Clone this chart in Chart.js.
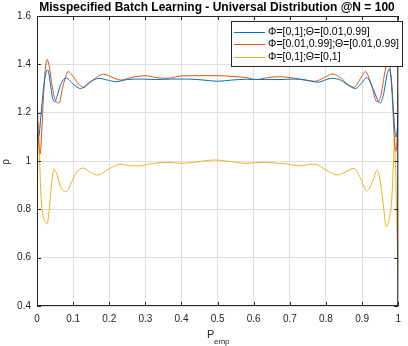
<!DOCTYPE html>
<html>
<head>
<meta charset="utf-8">
<script src="https://cdn.jsdelivr.net/npm/chart.js@4"></script>
<style>
  html, body { margin: 0; padding: 0; background: #fff; }
</style>
</head>
<body>
<canvas id="myChart" width="408" height="346"></canvas>
<script>
// P_emp positions and rho values, one pair of arrays per curve
const blueP = [0, 0.002, 0.006, 0.011, 0.018, 0.024, 0.03, 0.037, 0.043, 0.049, 0.056, 0.065, 0.081, 0.1, 0.121, 0.145, 0.171, 0.195, 0.218, 0.25, 0.29, 0.33, 0.37, 0.42, 0.46, 0.5, 0.54, 0.58, 0.63, 0.67, 0.71, 0.745, 0.777, 0.815, 0.84, 0.86, 0.882, 0.9, 0.913, 0.93, 0.95, 0.96, 0.968, 0.975, 0.982, 0.988, 0.993, 0.997, 1];
const blueRho = [1.2, 1.1, 1.11, 1.19, 1.3, 1.36, 1.377, 1.32, 1.26, 1.245, 1.27, 1.315, 1.343, 1.318, 1.3, 1.325, 1.342, 1.335, 1.328, 1.337, 1.339, 1.337, 1.339, 1.339, 1.335, 1.33, 1.335, 1.338, 1.337, 1.337, 1.339, 1.335, 1.326, 1.342, 1.335, 1.315, 1.3, 1.325, 1.345, 1.3, 1.24, 1.28, 1.35, 1.38, 1.32, 1.18, 1.1, 1.12, 1.2];

const orangeP = [0, 0.002, 0.005, 0.009, 0.013, 0.018, 0.023, 0.028, 0.034, 0.042, 0.05, 0.061, 0.072, 0.086, 0.1, 0.115, 0.13, 0.15, 0.185, 0.21, 0.233, 0.26, 0.3, 0.33, 0.36, 0.4, 0.45, 0.5, 0.54, 0.58, 0.606, 0.64, 0.668, 0.715, 0.769, 0.795, 0.818, 0.84, 0.86, 0.878, 0.895, 0.909, 0.925, 0.941, 0.952, 0.962, 0.972, 0.978, 0.984, 0.99, 0.994, 0.998, 1];
const orangeRho = [1.3, 1.18, 1.07, 1.03, 1.12, 1.27, 1.38, 1.42, 1.39, 1.31, 1.255, 1.24, 1.31, 1.37, 1.35, 1.318, 1.305, 1.33, 1.359, 1.345, 1.335, 1.345, 1.353, 1.345, 1.342, 1.352, 1.353, 1.353, 1.35, 1.345, 1.337, 1.345, 1.349, 1.342, 1.33, 1.345, 1.36, 1.345, 1.318, 1.305, 1.34, 1.37, 1.32, 1.245, 1.27, 1.36, 1.42, 1.38, 1.25, 1.07, 1.04, 1.15, 1.28];

const yellowP = [0, 0.002, 0.004, 0.007, 0.011, 0.016, 0.022, 0.028, 0.034, 0.04, 0.047, 0.055, 0.065, 0.081, 0.095, 0.11, 0.128, 0.145, 0.167, 0.2, 0.233, 0.26, 0.285, 0.31, 0.36, 0.4, 0.435, 0.49, 0.54, 0.578, 0.63, 0.67, 0.695, 0.723, 0.769, 0.8, 0.832, 0.855, 0.878, 0.895, 0.913, 0.928, 0.942, 0.952, 0.96, 0.967, 0.975, 0.982, 0.987, 0.99, 0.993, 0.996, 1];
const yellowRho = [0.644, 1.0, 1.16, 1.02, 0.86, 0.78, 0.75, 0.74, 0.8, 0.9, 0.967, 0.945, 0.895, 0.873, 0.91, 0.955, 0.971, 0.955, 0.942, 0.968, 0.987, 0.98, 0.98, 0.987, 0.995, 0.99, 0.995, 1.004, 0.997, 0.99, 0.995, 0.99, 0.987, 0.98, 0.987, 0.963, 0.942, 0.955, 0.97, 0.93, 0.876, 0.91, 0.963, 0.9, 0.8, 0.728, 0.76, 0.84, 1.0, 1.1, 0.95, 0.75, 0.495];

const seriesLabels = ["\u03A6=[0,1];\u0398=[0.01,0.99]", "\u03A6=[0.01,0.99];\u0398=[0.01,0.99]", "\u03A6=[0,1];\u0398=[0,1]"];
const seriesColors = ["#0072BD", "#D95319", "#EDB120"];
const xTicks = [0, 0.1, 0.2, 0.3, 0.4, 0.5, 0.6, 0.7, 0.8, 0.9, 1];
const yTicks = [0.4, 0.6, 0.8, 1, 1.2, 1.4, 1.6];

const FONT = "'Liberation Sans', Arial, sans-serif";
const AXIS_COLOR = "#262626";

function toPoints(xs, ys) {
  return xs.map((x, i) => ({ x: x, y: ys[i] }));
}

// box, inward ticks, legend and titles, drawn the MATLAB way
const decorPlugin = {
  id: "decor",
  afterDraw(chart) {
    const { ctx, chartArea: a, scales } = chart;
    ctx.save();
    ctx.strokeStyle = AXIS_COLOR;
    ctx.lineWidth = 1;
    ctx.strokeRect(a.left + 0.5, a.top + 0.5, a.right - a.left - 1, a.bottom - a.top - 1);

    ctx.beginPath();
    xTicks.forEach((v) => {
      const px = Math.round(scales.x.getPixelForValue(v)) + 0.5;
      ctx.moveTo(px, a.bottom); ctx.lineTo(px, a.bottom - 4);
      ctx.moveTo(px, a.top); ctx.lineTo(px, a.top + 4);
    });
    yTicks.forEach((v) => {
      const py = Math.round(scales.y.getPixelForValue(v)) + 0.5;
      ctx.moveTo(a.left, py); ctx.lineTo(a.left + 4, py);
      ctx.moveTo(a.right, py); ctx.lineTo(a.right - 4, py);
    });
    ctx.stroke();

    // legend
    const lx = 231, ly = 21, lw = 171, lh = 45;
    ctx.fillStyle = "#fff";
    ctx.fillRect(lx, ly, lw, lh);
    ctx.strokeStyle = AXIS_COLOR;
    ctx.strokeRect(lx + 0.5, ly + 0.5, lw, lh);
    ctx.font = "10.5px " + FONT;
    ctx.textBaseline = "middle";
    ctx.textAlign = "left";
    seriesLabels.forEach((label, i) => {
      const yy = 32 + i * 12.4;
      ctx.strokeStyle = seriesColors[i];
      ctx.beginPath();
      ctx.moveTo(234, Math.round(yy) + 0.5);
      ctx.lineTo(265, Math.round(yy) + 0.5);
      ctx.stroke();
      ctx.fillStyle = "#000";
      ctx.fillText(label, 268, yy);
    });

    // title
    ctx.fillStyle = "#000";
    ctx.font = "bold 12px " + FONT;
    ctx.textAlign = "center";
    ctx.textBaseline = "alphabetic";
    ctx.fillText("Misspecified Batch Learning - Universal Distribution @N = 100", 217, 11);

    // x axis title with subscript
    ctx.fillStyle = AXIS_COLOR;
    ctx.textAlign = "left";
    ctx.font = "11px " + FONT;
    ctx.fillText("P", 207, 338);
    ctx.font = "8px " + FONT;
    ctx.fillText("emp", 214, 344);

    // y axis title
    ctx.translate(9, 162);
    ctx.rotate(-Math.PI / 2);
    ctx.textAlign = "center";
    ctx.font = "10px " + FONT;
    ctx.fillText("\u03C1", 0, 0);
    ctx.restore();
  }
};

const chartConfig = {
  type: "line",
  data: {
    datasets: [
      { label: seriesLabels[0], data: toPoints(blueP, blueRho), borderColor: seriesColors[0] },
      { label: seriesLabels[1], data: toPoints(orangeP, orangeRho), borderColor: seriesColors[1] },
      { label: seriesLabels[2], data: toPoints(yellowP, yellowRho), borderColor: seriesColors[2] },
    ].map((d) => Object.assign(d, {
      borderWidth: 1,
      pointRadius: 0,
      fill: false,
      cubicInterpolationMode: "monotone",
    })),
  },
  options: {
    responsive: false,
    animation: false,
    devicePixelRatio: 1,
    layout: { padding: { top: 16, right: 3, left: 0, bottom: 0 } },
    plugins: { legend: { display: false }, title: { display: false }, tooltip: { enabled: false } },
    scales: {
      x: {
        type: "linear",
        min: 0,
        max: 1,
        afterFit: (s) => { s.height = 40; },
        afterBuildTicks: (s) => { s.ticks = xTicks.map((v) => ({ value: v })); },
        border: { display: false },
        grid: { color: "#dfdfdf", drawTicks: false },
        ticks: {
          padding: 7,
          color: AXIS_COLOR,
          font: { size: 10, family: FONT },
          maxRotation: 0,
          callback: (v) => String(+v.toFixed(2)),
        },
      },
      y: {
        min: 0.4,
        max: 1.6,
        afterFit: (s) => { s.width = 37; },
        afterBuildTicks: (s) => { s.ticks = yTicks.map((v) => ({ value: v })); },
        border: { display: false },
        grid: { color: "#dfdfdf", drawTicks: false },
        ticks: {
          padding: 6,
          color: AXIS_COLOR,
          font: { size: 10, family: FONT },
          callback: (v) => String(+v.toFixed(2)),
        },
      },
    },
  },
  plugins: [decorPlugin],
};

const ctx = document.getElementById("myChart");
const myChart = new Chart(ctx, chartConfig);
</script>
</body>
</html>
